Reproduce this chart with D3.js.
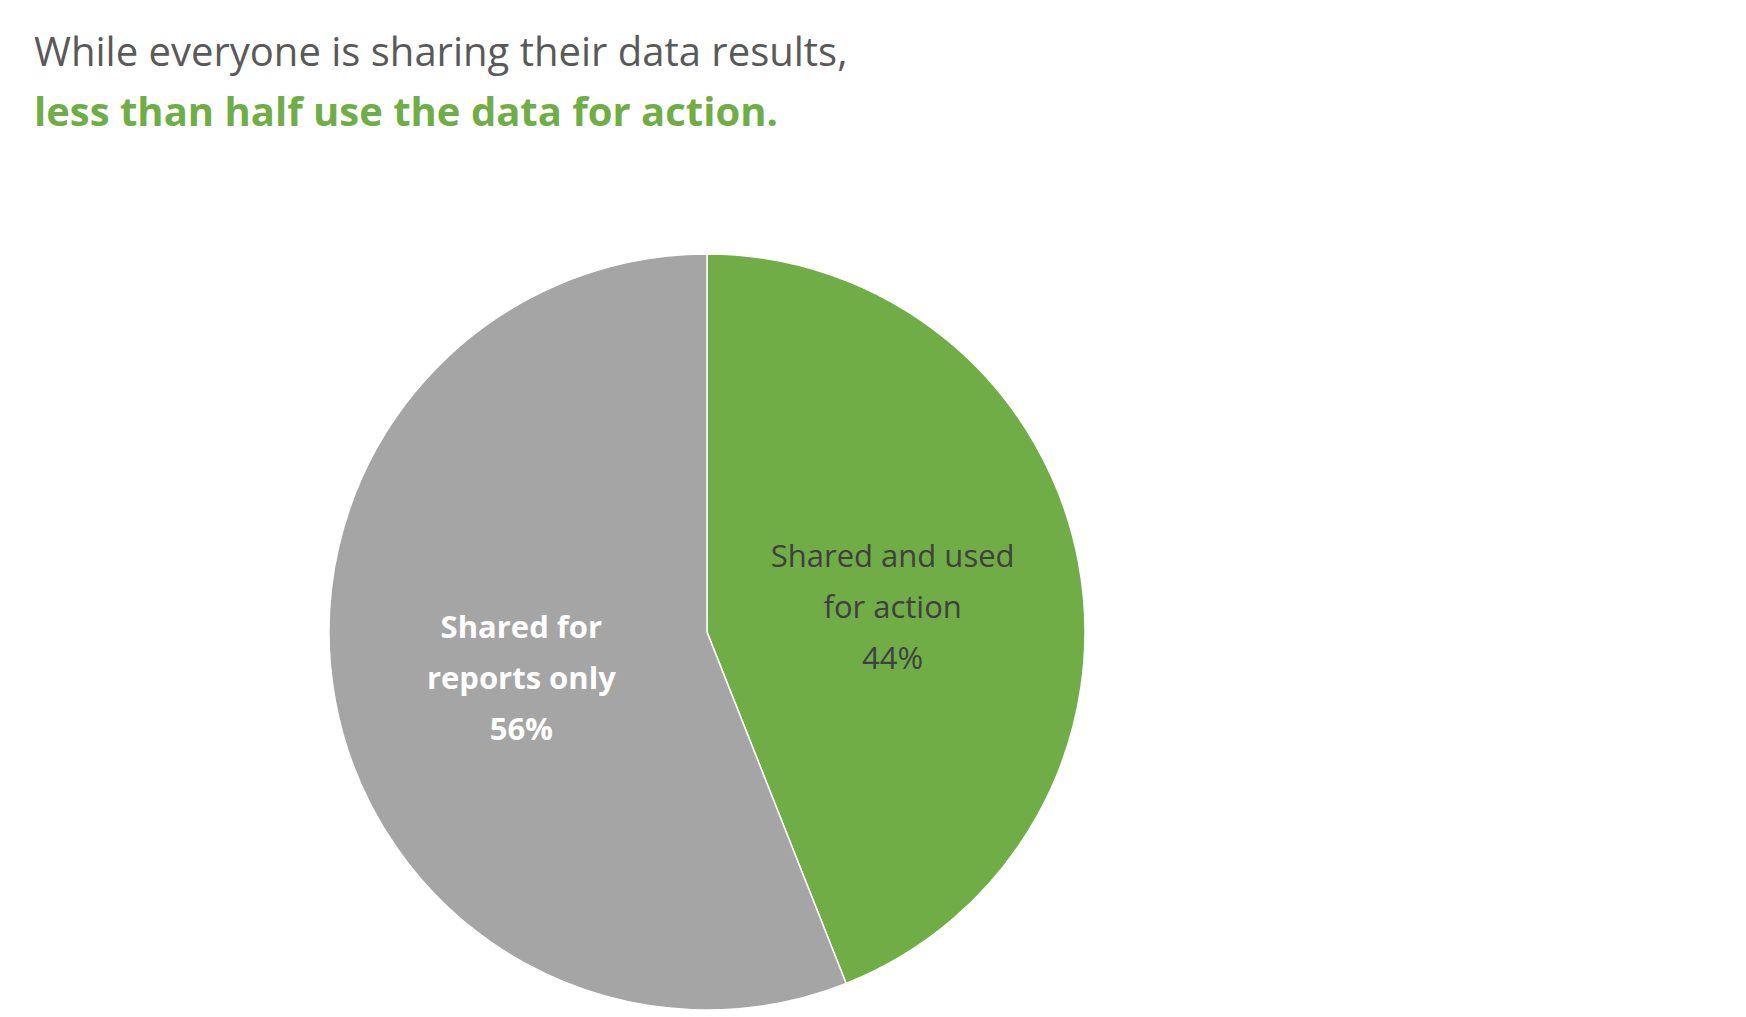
<!DOCTYPE html>
<html>
<head>
<meta charset="utf-8">
<script src="https://cdn.jsdelivr.net/npm/d3@7"></script>
<style>
  body { margin: 0; background: #fff; }
  text { font-family: "Open Sans", "Noto Sans", sans-serif; }
</style>
</head>
<body>
<div id="chart"></div>
<script>
// data
var categories = ["Shared and used for action", "Shared for reports only"];
var values = [44, 56];
var labelLines = [["Shared and used", "for action"], ["Shared for", "reports only"]];
var colors = ["#70ad47", "#a5a5a5"];

var width = 1746, height = 1017;
var svg = d3.select("#chart").append("svg")
        .attr("width", width)
        .attr("height", height);

svg.append("text")
        .attr("x", 34).attr("y", 66)
        .attr("font-size", 40)
        .attr("fill", "#595959")
        .text("While everyone is sharing their data results,");
svg.append("text")
        .attr("x", 34).attr("y", 126)
        .attr("font-size", 40)
        .attr("font-weight", "bold")
        .attr("fill", "#70ad47")
        .text("less than half use the data for action.");

var cx = 707, cy = 632, r = 378;
var pie = d3.pie().sort(null).value(function (d) { return d; });
var arc = d3.arc().innerRadius(0).outerRadius(r);
var labelArc = d3.arc().innerRadius(r * 0.5).outerRadius(r * 0.5);

var g = svg.append("g").attr("transform", "translate(" + cx + "," + cy + ")");
var arcs = pie(values);

g.selectAll("path")
        .data(arcs)
        .enter()
        .append("path")
        .attr("d", arc)
        .attr("fill", function (d, i) { return colors[i]; })
        .attr("stroke", "#fff")
        .attr("stroke-width", 1.5);

var labels = g.selectAll("g.lbl")
        .data(arcs)
        .enter()
        .append("g")
        .attr("class", "lbl")
        .attr("transform", function (d) {
            var c = labelArc.centroid(d);
            return "translate(" + c[0] + "," + (c[1] - 40) + ")";
        });

labels.each(function (d, i) {
    var sel = d3.select(this);
    var lines = labelLines[i].concat([values[i] + "%"]);
    lines.forEach(function (t, j) {
        sel.append("text")
                .attr("text-anchor", "middle")
                .attr("y", j * 51)
                .attr("dy", "0.35em")
                .attr("font-size", 31)
                .attr("font-weight", i === 1 ? "bold" : "normal")
                .attr("fill", i === 1 ? "#fff" : "#404040")
                .text(t);
    });
});
</script>
</body>
</html>
